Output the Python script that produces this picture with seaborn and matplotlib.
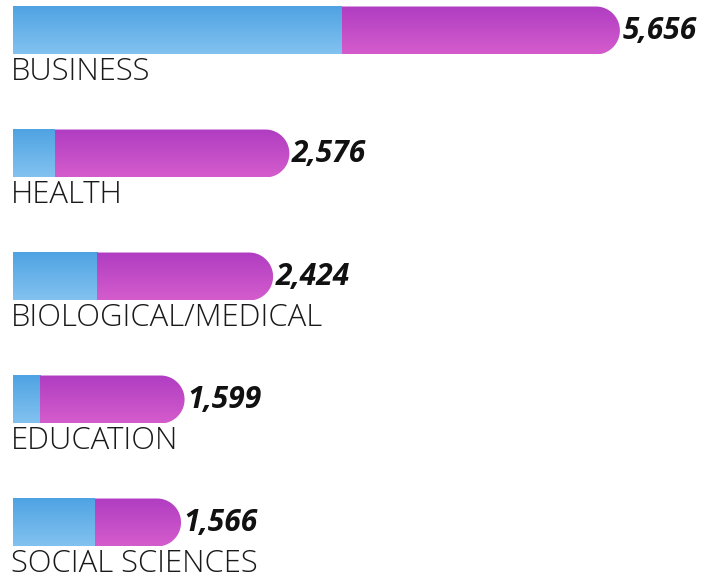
import numpy as np
import matplotlib
matplotlib.use("Agg")
import matplotlib.pyplot as plt
from matplotlib.patches import Polygon
import seaborn as sns

# data
categories = ["BUSINESS", "HEALTH", "BIOLOGICAL/MEDICAL", "EDUCATION", "SOCIAL SCIENCES"]
totals = [5656, 2576, 2424, 1599, 1566]
blue_part = [3066, 391, 783, 252, 764]

W, H = 705, 579
fig = plt.figure(figsize=(W / 100, H / 100), dpi=100)
ax = fig.add_axes([0, 0, 1, 1])

sns.barplot(x=totals, y=categories, orient="h", ax=ax, width=0.39, color="#cccccc")

px_per_unit = 0.1073
left_px = 13
ax.set_xlim(-left_px / px_per_unit, (W - left_px) / px_per_unit)
step = 123.0
c0 = 30.5
ax.set_ylim((H - c0) / step, -c0 / step)
ax.axis("off")

blue_top, blue_bot = np.array([0.31, 0.64, 0.89]), np.array([0.51, 0.76, 0.94])
mag_top, mag_bot = np.array([0.69, 0.24, 0.76]), np.array([0.83, 0.36, 0.80])


def gradient(c_top, c_bot):
    t = np.linspace(0, 1, 64)[:, None, None]
    return (c_top * (1 - t) + c_bot * t)


def rounded_poly(xs, xe, yt, yb):
    ry = (yb - yt) / 2
    rx = ry * step / px_per_unit
    yc = (yt + yb) / 2
    cx = xe - rx
    th = np.linspace(-np.pi / 2, np.pi / 2, 60)
    arc = np.column_stack([cx + rx * np.cos(th), yc + ry * np.sin(th)])
    pts = np.vstack([[xs, yt], arc, [xs, yb]])
    return pts


xl, yl = ax.get_xlim(), ax.get_ylim()
for i, p in enumerate(list(ax.patches)):
    p.set_visible(False)
    x0 = p.get_x()
    y0 = p.get_y()
    h = p.get_height()
    yt, yb = min(y0, y0 + h), max(y0, y0 + h)
    tot = totals[i]
    b = blue_part[i]

    im = ax.imshow(gradient(blue_top, blue_bot), extent=(x0, x0 + b, yb, yt),
                   aspect="auto", origin="upper", interpolation="bilinear", zorder=2)
    im2 = ax.imshow(gradient(mag_top, mag_bot), extent=(x0 + b, tot, yb, yt),
                    aspect="auto", origin="upper", interpolation="bilinear", zorder=2)
    clip = Polygon(rounded_poly(x0 + b, tot, yt, yb), closed=True,
                   transform=ax.transData, facecolor="none", edgecolor="none")
    ax.add_patch(clip)
    im2.set_clip_path(clip)

    ax.text(tot + 25, (yt + yb) / 2 + 0.005, f"{tot:,}", fontsize=21.5,
            fontfamily="Open Sans", fontweight="bold", fontstyle="italic",
            color="#111111", va="center", ha="left", zorder=3)
    ax.text(-2 / px_per_unit, yb + 0.01, categories[i], fontsize=22.3,
            fontfamily="Open Sans", fontweight="light",
            color="#1a1a1a", va="top", ha="left", zorder=3)

ax.set_xlim(xl)
ax.set_ylim(yl)

fig.savefig("out.png", dpi=100)
